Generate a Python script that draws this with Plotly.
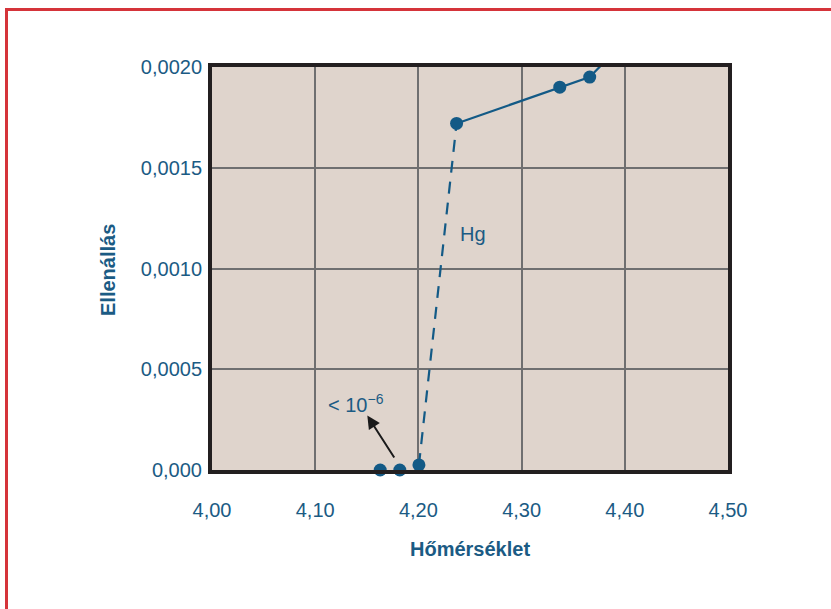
import plotly.graph_objects as go

# Data
temp = [4.163, 4.182, 4.2005, 4.237, 4.337, 4.366]
resist = [0.0, 0.0, 0.000025, 0.00172, 0.00190, 0.00195]
# continuation of the measured curve to the top edge
line_end_temp = [4.366, 4.385]
line_end_res = [0.00195, 0.00205]

x_ticks = [4.00, 4.10, 4.20, 4.30, 4.40, 4.50]
x_ticktext = ["4,00", "4,10", "4,20", "4,30", "4,40", "4,50"]
y_ticks = [0.0, 0.0005, 0.0010, 0.0015, 0.0020]
y_ticktext = ["0,000", "0,0005", "0,0010", "0,0015", "0,0020"]

BLUE = "#135a86"
TEXT = "#1b5b84"
FONT = "Liberation Sans, Arial, sans-serif"

fig = go.Figure()

# dashed transition segment
fig.add_trace(go.Scatter(x=temp[2:4], y=resist[2:4], mode="lines",
                         line=dict(color=BLUE, width=2.2, dash="12px,9px"),
                         hoverinfo="skip", cliponaxis=True))
# solid normal-state segment
fig.add_trace(go.Scatter(x=temp[3:] + line_end_temp[1:], y=resist[3:] + line_end_res[1:],
                         mode="lines", line=dict(color=BLUE, width=2.2),
                         hoverinfo="skip", cliponaxis=True))
# markers
fig.add_trace(go.Scatter(x=temp, y=resist, mode="markers",
                         marker=dict(color=BLUE, size=13, line=dict(width=0)),
                         hoverinfo="skip", cliponaxis=False))

W, H = 831, 609
PL, PT, PR, PB = 212, 67, 728, 470  # plot area in pixels
pw, ph = PR - PL, PB - PT
L, T, R, B = PL, PT, W - PR, H - PB

def px(xs):
    return (xs - PL) / pw

def py(ys):
    return (PB - ys) / ph

fig.update_layout(
    width=W, height=H,
    margin=dict(l=L, r=R, t=T, b=B),
    paper_bgcolor="white",
    plot_bgcolor="#dfd4cc",
    showlegend=False,
    font=dict(family=FONT, color=TEXT, size=20),
    xaxis=dict(range=[4.0, 4.5], tickvals=x_ticks, ticktext=x_ticktext,
               showgrid=True, gridcolor="#6f6f70", gridwidth=2,
               zeroline=False, showline=True, linecolor="#231f20", linewidth=4,
               mirror=True, ticks="", ticklabelstandoff=19,
               tickfont=dict(size=20, color=TEXT)),
    yaxis=dict(range=[0.0, 0.0020], tickvals=y_ticks, ticktext=y_ticktext,
               showgrid=True, gridcolor="#6f6f70", gridwidth=2,
               zeroline=False, showline=True, linecolor="#231f20", linewidth=4,
               mirror=True, ticks="", ticklabelstandoff=2,
               tickfont=dict(size=20, color=TEXT)),
    shapes=[dict(type="rect", xref="paper", yref="paper",
                 x0=px(6.5), x1=px(840), y0=py(620), y1=py(9.5),
                 line=dict(color="#d5343a", width=3), fillcolor="rgba(0,0,0,0)",
                 layer="above")],
    annotations=[
        dict(text="<b>Hőmérséklet</b>", xref="paper", yref="paper",
             x=px(470), y=py(549), xanchor="center", yanchor="middle",
             showarrow=False, font=dict(size=20, color=TEXT)),
        dict(text="<b>Ellenállás</b>", xref="paper", yref="paper",
             x=px(108), y=py(270), xanchor="center", yanchor="middle",
             showarrow=False, textangle=-90, font=dict(size=20, color=TEXT)),
        dict(text="Hg", x=4.253, y=0.00117, showarrow=False,
             xanchor="center", yanchor="middle",
             font=dict(size=20, color=TEXT)),
        dict(text="&lt; 10<sup>−6</sup>", x=4.140, y=0.00033, showarrow=False,
             xanchor="center", yanchor="middle",
             font=dict(size=20, color=TEXT)),
        dict(text="", x=4.1505, y=0.00027, ax=4.1775, ay=0.000055,
             xref="x", yref="y", axref="x", ayref="y",
             showarrow=True, arrowhead=2, arrowsize=1.3, arrowwidth=2,
             arrowcolor="#1a1a1a"),
    ],
)

fig.write_html("out.html",
               config={"displayModeBar": False},
               post_script="document.body.style.margin='0';document.body.style.overflow='hidden';")
